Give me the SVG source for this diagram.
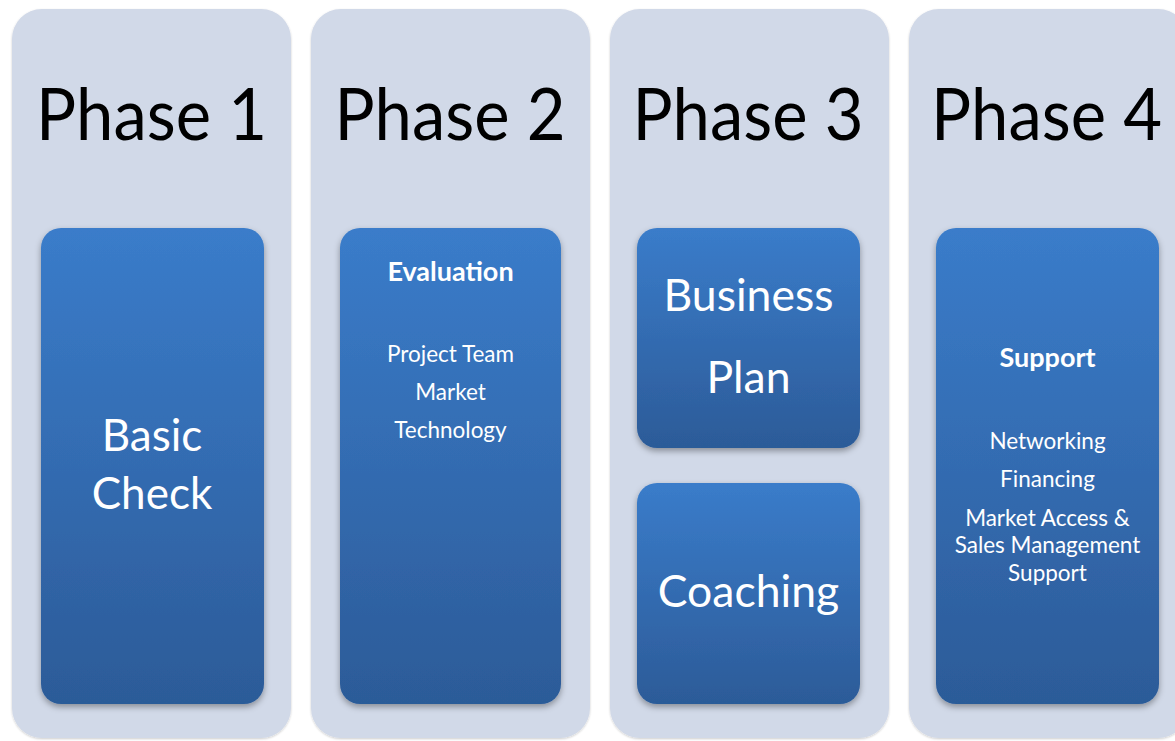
<svg xmlns="http://www.w3.org/2000/svg" width="1175" height="741" viewBox="0 0 1175 741">
<defs>
<linearGradient id="blue" x1="0" y1="0" x2="0" y2="1">
<stop offset="0" stop-color="#3a7cca"/>
<stop offset="1" stop-color="#2c5b98"/>
</linearGradient>
<filter id="sh" x="-10%" y="-10%" width="120%" height="120%">
<feDropShadow dx="0" dy="3" stdDeviation="3" flood-color="#000" flood-opacity="0.35"/>
</filter>
<filter id="psh" x="-10%" y="-10%" width="120%" height="120%">
<feDropShadow dx="0" dy="1" stdDeviation="1.2" flood-color="#000" flood-opacity="0.2"/>
</filter>
</defs>
<style>
.panel{fill:#d1d9e8;filter:url(#psh)}
.box{fill:url(#blue);filter:url(#sh)}
.ph{font-family:Lato,"Open Sans",sans-serif;font-size:72px;fill:#000;text-anchor:middle}
.w{font-family:Lato,"Open Sans",sans-serif;fill:#fff;text-anchor:middle}
.big{font-size:44px}
.mid{font-size:44.5px}
.hd{font-size:27px;font-weight:bold}
.sm{font-size:22.5px}
</style>
<rect width="1175" height="741" fill="#fff"/>
<g id="phase1">
<rect class="panel" x="12" y="9" width="279" height="729" rx="30"/>
<text class="ph" transform="translate(151.5,140) scale(0.93,1)">Phase 1</text>
<rect class="box" x="41" y="228" width="223" height="476" rx="20"/>
<text class="w big" x="152" y="451">Basic</text>
<text class="w big" x="152" y="509">Check</text>
</g>
<g id="phase2">
<rect class="panel" x="311" y="9" width="279" height="729" rx="30"/>
<text class="ph" transform="translate(450,140) scale(0.93,1)">Phase 2</text>
<rect class="box" x="340" y="228" width="221" height="476" rx="20"/>
<text class="w hd" x="450.5" y="281">Evaluation</text>
<text class="w sm" x="450.5" y="362">Project Team</text>
<text class="w sm" x="450.5" y="400">Market</text>
<text class="w sm" x="450.5" y="438">Technology</text>
</g>
<g id="phase3">
<rect class="panel" x="610" y="9" width="279" height="729" rx="30"/>
<text class="ph" transform="translate(748,140) scale(0.93,1)">Phase 3</text>
<rect class="box" x="637" y="228" width="223" height="220" rx="20"/>
<text class="w mid" x="748.5" y="311">Business</text>
<text class="w mid" x="748.5" y="393">Plan</text>
<rect class="box" x="637" y="483" width="223" height="221" rx="20"/>
<text class="w mid" x="748.5" y="607">Coaching</text>
</g>
<g id="phase4">
<rect class="panel" x="909" y="9" width="279" height="729" rx="30"/>
<text class="ph" transform="translate(1046.5,140) scale(0.93,1)">Phase 4</text>
<rect class="box" x="936" y="228" width="223" height="476" rx="20"/>
<text class="w hd" x="1047.5" y="367">Support</text>
<text class="w sm" x="1047.5" y="449">Networking</text>
<text class="w sm" x="1047.5" y="487">Financing</text>
<text class="w sm" x="1047.5" y="526">Market Access &amp;</text>
<text class="w sm" x="1047.5" y="553">Sales Management</text>
<text class="w sm" x="1047.5" y="581">Support</text>
</g>
<g id="connectors"/>
</svg>
